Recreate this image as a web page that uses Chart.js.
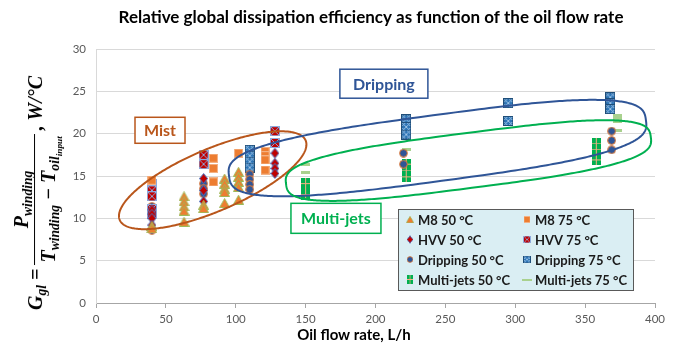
<!DOCTYPE html>
<html>
<head>
<meta charset="utf-8">
<script src="https://cdn.jsdelivr.net/npm/chart.js@4.4.0/dist/chart.umd.min.js"></script>
<style>
  html, body { margin: 0; padding: 0; background: #fff; }
  #wrap { position: relative; width: 676px; height: 348px; }
  #ylabel {
    position: absolute; left: 0; top: 0; white-space: nowrap;
    display: inline-flex; align-items: center;
    font: italic bold 20px "Liberation Serif", serif; color: #000;
    transform: rotate(-90deg); transform-origin: 50% 50%;
  }
  #ylabel sub { font-size: 0.68em; vertical-align: -0.3em; line-height: 0; }
  #ylabel .frac { display: inline-flex; flex-direction: column; align-items: center; margin: 0 4px; }
  #ylabel .num { padding: 0 4px 1px; }
  #ylabel .den { padding: 2px 2px 0; border-top: 1.5px solid #000; }
</style>
</head>
<body>
<div id="wrap">
  <canvas id="chart" width="676" height="348"></canvas>
  <div id="ylabel">
    <span>G<sub>gl</sub>&nbsp;=</span>
    <span class="frac">
      <span class="num">P<sub>winding</sub></span>
      <span class="den">T<sub>winding</sub> − T<sub>oil<sub>input</sub></sub></span>
    </span>
    <span>, W/°C</span>
  </div>
</div>
<script>
// values (flow in L/h, conductance in W/°C)
const xTicks = [0, 50, 100, 150, 200, 250, 300, 350, 400];
const yTicks = [0, 5, 10, 15, 20, 25, 30];

const m8_50_flow = [40, 40, 63, 63, 63, 63, 63, 77, 77, 92, 92, 92, 92, 92, 102, 102, 102, 102, 102];
const m8_50_g = [9.1, 8.8, 12.6, 12.0, 11.4, 10.9, 9.6, 11.6, 11.2, 14.7, 14.1, 13.5, 13.1, 11.8, 15.5, 14.9, 14.3, 13.7, 12.2];

const m8_75_flow = [40, 84, 84, 84, 102, 121, 121, 121, 121];
const m8_75_g = [14.5, 17.1, 15.9, 14.3, 17.7, 17.9, 17.4, 16.9, 15.7];

const hvv_50_flow = [40, 40, 40, 40, 77, 77, 77, 128, 128, 128, 128];
const hvv_50_g = [11.0, 10.5, 10.0, 9.2, 14.7, 13.3, 12.0, 17.7, 16.5, 15.9, 15.3];

const hvv_75_flow = [40, 40, 40, 40, 40, 77, 77, 128, 128];
const hvv_75_g = [14.0, 13.3, 12.6, 11.1, 10.5, 17.5, 16.4, 20.3, 18.9];

const drip_50_flow = [40, 40, 40, 77, 77, 77, 110, 110, 110, 110, 220, 220, 369, 369, 369];
const drip_50_g = [11.4, 10.3, 8.6, 14.1, 13.5, 12.9, 15.2, 14.6, 14.0, 13.4, 17.7, 16.4, 20.3, 19.2, 18.1];

const drip_75_flow = [110, 110, 110, 110, 222, 222, 222, 295, 295, 368, 368, 368];
const drip_75_g = [18.1, 17.4, 16.7, 16.0, 21.7, 20.8, 19.9, 23.6, 21.5, 24.3, 23.6, 22.9];

const mj_50_flow = [150, 150, 150, 222, 222, 222, 358, 358, 358, 358];
const mj_50_g = [14.1, 13.3, 12.8, 16.4, 15.6, 14.9, 18.8, 18.1, 17.4, 16.9];

const mj_75_flow = [150, 150, 222, 373, 373, 373, 373];
const mj_75_g = [16.4, 15.4, 18.1, 22.2, 21.8, 21.4, 20.4];

const seriesLabels = ['M8 50 °C', 'M8 75 °C', 'HVV 50 °C', 'HVV 75 °C',
  'Dripping 50 °C', 'Dripping 75 °C', 'Multi-jets 50 °C', 'Multi-jets 75 °C'];

// small canvases used as point styles
function marker(w, h, paint) {
  const c = document.createElement('canvas');
  c.width = w; c.height = h;
  paint(c.getContext('2d'), w, h);
  return c;
}
const triMark = marker(11, 10, (g, w, h) => {
  g.beginPath(); g.moveTo(w / 2, 0.5); g.lineTo(w - 0.5, h - 0.5); g.lineTo(0.5, h - 0.5); g.closePath();
  g.fillStyle = '#ED7D31'; g.fill(); g.strokeStyle = '#9BBB59'; g.lineWidth = 1; g.stroke();
});
const orangeSq = marker(9, 9, (g, w, h) => {
  g.fillStyle = '#ED7D31'; g.fillRect(0, 0, w, h);
  g.strokeStyle = '#F4B183'; g.strokeRect(0.5, 0.5, w - 1, h - 1);
});
const redDiamond = marker(9, 11, (g, w, h) => {
  g.beginPath(); g.moveTo(w / 2, 0.5); g.lineTo(w - 0.5, h / 2); g.lineTo(w / 2, h - 0.5); g.lineTo(0.5, h / 2); g.closePath();
  g.fillStyle = '#C00000'; g.fill(); g.strokeStyle = '#4472C4'; g.lineWidth = 1; g.stroke();
});
const redSqX = marker(10, 10, (g, w, h) => {
  g.fillStyle = '#C00000'; g.fillRect(0, 0, w, h);
  g.strokeStyle = '#8EA9DB'; g.lineWidth = 1;
  g.strokeRect(0.5, 0.5, w - 1, h - 1);
  g.beginPath(); g.moveTo(1, 1); g.lineTo(w - 1, h - 1); g.moveTo(w - 1, 1); g.lineTo(1, h - 1); g.stroke();
});
const blueDot = marker(9, 9, (g, w, h) => {
  g.beginPath(); g.arc(w / 2, h / 2, w / 2 - 0.6, 0, Math.PI * 2);
  g.fillStyle = '#2F5597'; g.fill(); g.strokeStyle = '#ED7D31'; g.lineWidth = 1; g.stroke();
});
const blueSqX = marker(10, 10, (g, w, h) => {
  g.fillStyle = '#2E75B6'; g.fillRect(0, 0, w, h);
  g.strokeStyle = '#9DC3E6'; g.lineWidth = 1;
  g.beginPath(); g.moveTo(0, 0); g.lineTo(w, h); g.moveTo(w, 0); g.lineTo(0, h);
  g.moveTo(w / 2, 0); g.lineTo(w, h / 2); g.lineTo(w / 2, h); g.lineTo(0, h / 2); g.closePath(); g.stroke();
  g.strokeStyle = '#1F4E79'; g.strokeRect(0.5, 0.5, w - 1, h - 1);
});
const greenSq = marker(9, 11, (g, w, h) => {
  g.fillStyle = '#00B050'; g.fillRect(0, 0, w, h);
  g.strokeStyle = '#F4B183'; g.lineWidth = 1;
  g.beginPath(); g.moveTo(w / 2, 0); g.lineTo(w / 2, h); g.moveTo(0, h / 2); g.lineTo(w, h / 2); g.stroke();
});
const greenDash = marker(9, 3, (g, w, h) => {
  g.fillStyle = '#A9D18E'; g.fillRect(0, 0, w, h);
});

const markers = [triMark, orangeSq, redDiamond, redSqX, blueDot, blueSqX, greenSq, greenDash];
const flows = [m8_50_flow, m8_75_flow, hvv_50_flow, hvv_75_flow, drip_50_flow, drip_75_flow, mj_50_flow, mj_75_flow];
const values = [m8_50_g, m8_75_g, hvv_50_g, hvv_75_g, drip_50_g, drip_75_g, mj_50_g, mj_75_g];

const datasets = seriesLabels.map((label, i) => ({
  label,
  data: flows[i].map((x, j) => ({ x, y: values[i][j] })),
  pointStyle: markers[i],
  pointRadius: 5,
  showLine: false
}));

// regime loops: ends of the long axis in data units, half width in px
const loops = [
  { text: 'Mist', color: '#B9561B', from: [17, 9.8], to: [150, 19.2], half: 31, n: 2, at: [45.8, 20.4], w: 50, h: 26 },
  { text: 'Dripping', color: '#2F5597', from: [95.2, 15.0], to: [393.5, 21.6], half: 33, n: 3, at: [206, 25.9], w: 88, h: 29 },
  { text: 'Multi-jets', color: '#00B050', from: [136, 14.05], to: [397, 19.6], half: 27.5, n: 3, at: [171.7, 10.0], w: 90, h: 30 }
];

const FONT = 'Lato, "Open Sans", sans-serif';

const annotate = {
  id: 'annotate',
  afterDatasetsDraw(chart) {
    const { ctx, scales: { x, y } } = chart;
    ctx.save();
    loops.forEach(l => {
      const x1 = x.getPixelForValue(l.from[0]), y1 = y.getPixelForValue(l.from[1]);
      const x2 = x.getPixelForValue(l.to[0]), y2 = y.getPixelForValue(l.to[1]);
      const a = Math.hypot(x2 - x1, y2 - y1) / 2;
      ctx.save();
      ctx.translate((x1 + x2) / 2, (y1 + y2) / 2);
      ctx.rotate(Math.atan2(y2 - y1, x2 - x1));
      ctx.beginPath();
      for (let i = 0; i <= 360; i++) {
        const t = i * Math.PI / 180, c = Math.cos(t), s = Math.sin(t);
        const px = a * Math.sign(c) * Math.pow(Math.abs(c), 2 / l.n);
        const py = l.half * Math.sign(s) * Math.pow(Math.abs(s), 2 / l.n);
        if (i) ctx.lineTo(px, py); else ctx.moveTo(px, py);
      }
      ctx.closePath();
      ctx.strokeStyle = l.color; ctx.lineWidth = 2; ctx.stroke();
      ctx.restore();
    });
    loops.forEach(l => {
      const cx = x.getPixelForValue(l.at[0]), cy = y.getPixelForValue(l.at[1]);
      ctx.fillStyle = '#fff';
      ctx.fillRect(cx - l.w / 2, cy - l.h / 2, l.w, l.h);
      ctx.strokeStyle = l.color; ctx.lineWidth = 1.5;
      ctx.strokeRect(cx - l.w / 2, cy - l.h / 2, l.w, l.h);
      ctx.fillStyle = l.color;
      ctx.font = 'bold 16px ' + FONT;
      ctx.textAlign = 'center'; ctx.textBaseline = 'middle';
      ctx.fillText(l.text, cx, cy + 1);
    });
    ctx.restore();
  },
  afterDraw(chart) {
    const { ctx } = chart;
    ctx.save();
    // titles
    ctx.fillStyle = '#000';
    ctx.textAlign = 'center'; ctx.textBaseline = 'middle';
    ctx.font = 'bold 17px ' + FONT;
    ctx.fillText('Relative global dissipation efficiency as function of the oil flow rate', 371, 18);
    ctx.font = 'bold 15px ' + FONT;
    ctx.fillText('Oil flow rate, L/h', 354, 335);
    // legend box
    const bx = 398, by = 209, bw = 235, bh = 81;
    ctx.fillStyle = '#DAEEF3';
    ctx.fillRect(bx, by, bw, bh);
    ctx.strokeStyle = '#595959'; ctx.lineWidth = 1;
    ctx.strokeRect(bx + 0.5, by + 0.5, bw, bh);
    ctx.font = 'bold 13px ' + FONT;
    ctx.textAlign = 'left';
    ctx.fillStyle = '#1a1a1a';
    seriesLabels.forEach((label, i) => {
      const col = i % 2, row = Math.floor(i / 2);
      const mx = bx + 12 + col * 117, my = by + 10.5 + row * 20;
      const m = markers[i];
      const sw = i === 7 ? 10 : m.width * 0.75, sh = i === 7 ? 2 : m.height * 0.75;
      ctx.drawImage(m, mx - sw / 2, my - sh / 2, sw, sh);
      ctx.fillText(label, mx + 8, my + 1);
    });
    ctx.restore();
  }
};

new Chart(document.getElementById('chart'), {
  type: 'scatter',
  data: { datasets },
  options: {
    responsive: false,
    animation: false,
    devicePixelRatio: 1,
    layout: { padding: { left: 0, top: 49, right: 21, bottom: 0 } },
    plugins: { legend: { display: false }, title: { display: false }, tooltip: { enabled: false } },
    scales: {
      x: {
        type: 'linear',
        min: xTicks[0], max: xTicks[xTicks.length - 1],
        afterBuildTicks: s => { s.ticks = xTicks.map(v => ({ value: v })); },
        afterFit: s => { s.height = 45; },
        grid: { drawOnChartArea: false, drawTicks: true, tickLength: 5, color: '#A6A6A6' },
        border: { color: '#A6A6A6' },
        ticks: { font: { family: FONT, size: 11.5 }, color: '#595959', padding: 4 }
      },
      y: {
        type: 'linear',
        min: yTicks[0], max: yTicks[yTicks.length - 1],
        afterBuildTicks: s => { s.ticks = yTicks.map(v => ({ value: v })); },
        afterFit: s => { s.width = 96; },
        grid: { color: '#D9D9D9', drawTicks: false },
        border: { color: '#D9D9D9' },
        ticks: { font: { family: FONT, size: 11.5 }, color: '#595959', padding: 10 }
      }
    }
  },
  plugins: [annotate]
});

// rotated formula for the y axis title
const yl = document.getElementById('ylabel');
yl.style.left = (35 - yl.offsetWidth / 2) + 'px';
yl.style.top = (193 - yl.offsetHeight / 2) + 'px';
</script>
</body>
</html>
